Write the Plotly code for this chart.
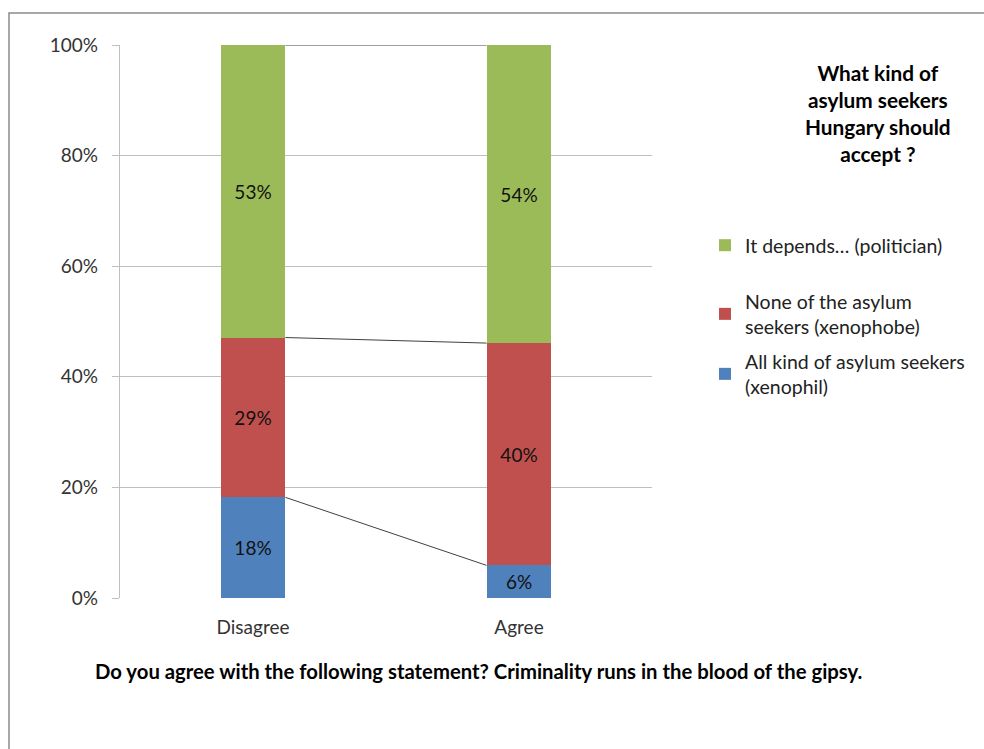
import plotly.graph_objects as go

categories = ["Disagree", "Agree"]
series_names = ["All kind of asylum seekers<br>(xenophil)",
                "None of the asylum<br>seekers (xenophobe)",
                "It depends… (politician)"]
xenophil = [18.2, 5.9]
xenophobe = [28.9, 40.2]
politician = [52.9, 53.9]
colors = ["#4F81BD", "#C0504D", "#9BBB59"]
y_ticks = [0, 20, 40, 60, 80, 100]
y_tick_labels = ["0%", "20%", "40%", "60%", "80%", "100%"]

FONT = "Lato"
BAR_W = 0.244
xpos = list(range(len(categories)))

fig = go.Figure()
series = [xenophil, xenophobe, politician]
legends = ["legend", "legend3", "legend2"]
for name, vals, col, lg in zip(series_names, series, colors, legends):
    fig.add_trace(go.Bar(
        x=xpos, y=vals, name=name, marker=dict(color=col, line=dict(width=0)),
        width=BAR_W, text=[f"{round(v)}%" for v in vals], textposition="inside",
        insidetextanchor="middle", textangle=0,
        textfont=dict(family=FONT, size=19, color="#111"),
        legend=lg,
    ))

# series lines connecting segment tops
cum = [0.0, 0.0]
for vals in series:
    cum = [c + v for c, v in zip(cum, vals)]
    fig.add_trace(go.Scatter(
        x=[xpos[0] + BAR_W / 2, xpos[1] - BAR_W / 2], y=cum, mode="lines",
        line=dict(color="#404040", width=1), showlegend=False, hoverinfo="skip",
    ))

L, R, T, B = 120, 652, 45, 598
W, H = 984, 749

def px_x(p):
    return (p - L) / (R - L)

def px_y(p):
    return (B - p) / (B - T)

fig.add_shape(type="rect", xref="paper", yref="paper",
              x0=px_x(9), x1=px_x(995), y0=px_y(13), y1=px_y(760),
              line=dict(color="#8c8c8c", width=1.5), layer="below")

fig.add_annotation(xref="paper", yref="paper", x=px_x(878), y=px_y(113.5),
                   text="<b>What kind of<br>asylum seekers<br>Hungary should<br>accept ?</b>",
                   showarrow=False, align="center", xanchor="center", yanchor="middle",
                   font=dict(family=FONT, size=20.8, color="#000"))
fig.add_annotation(xref="paper", yref="paper", x=px_x(478), y=px_y(671),
                   text="<b>Do you agree with the following statement? Criminality runs in the blood of the gipsy.</b>",
                   showarrow=False, xanchor="center", yanchor="middle",
                   font=dict(family=FONT, size=20.3, color="#000"))

leg_common = dict(xanchor="left", yanchor="top", font=dict(family=FONT, size=19.5, color="#222"),
                  itemwidth=30, bgcolor="rgba(0,0,0,0)")
LEG_X = px_x(705)

fig.update_layout(
    width=W, height=H, barmode="stack", bargap=0,
    margin=dict(l=L, r=W - R, t=T, b=H - B, pad=0),
    plot_bgcolor="white", paper_bgcolor="white",
    font=dict(family=FONT, size=19, color="#333"),
    xaxis=dict(range=[-0.5, 1.5], tickvals=xpos, ticktext=categories, showgrid=False,
               zeroline=False, showline=False, ticks="", ticklabelstandoff=16,
               tickfont=dict(size=19, color="#333")),
    yaxis=dict(range=[0, 100], tickvals=y_ticks, ticktext=y_tick_labels, showgrid=True,
               gridcolor="#bfbfbf", gridwidth=1.3, zeroline=False, showline=True,
               linecolor="#bfbfbf", linewidth=1.3, ticks="outside", ticklen=7,
               tickcolor="#bfbfbf", ticklabelstandoff=10, tickfont=dict(size=19, color="#333")),
    legend=dict(x=LEG_X, y=px_y(342), **leg_common),
    legend2=dict(x=LEG_X, y=px_y(226), **leg_common),
    legend3=dict(x=LEG_X, y=px_y(282), **leg_common),
)

fig.write_html("out.html")
